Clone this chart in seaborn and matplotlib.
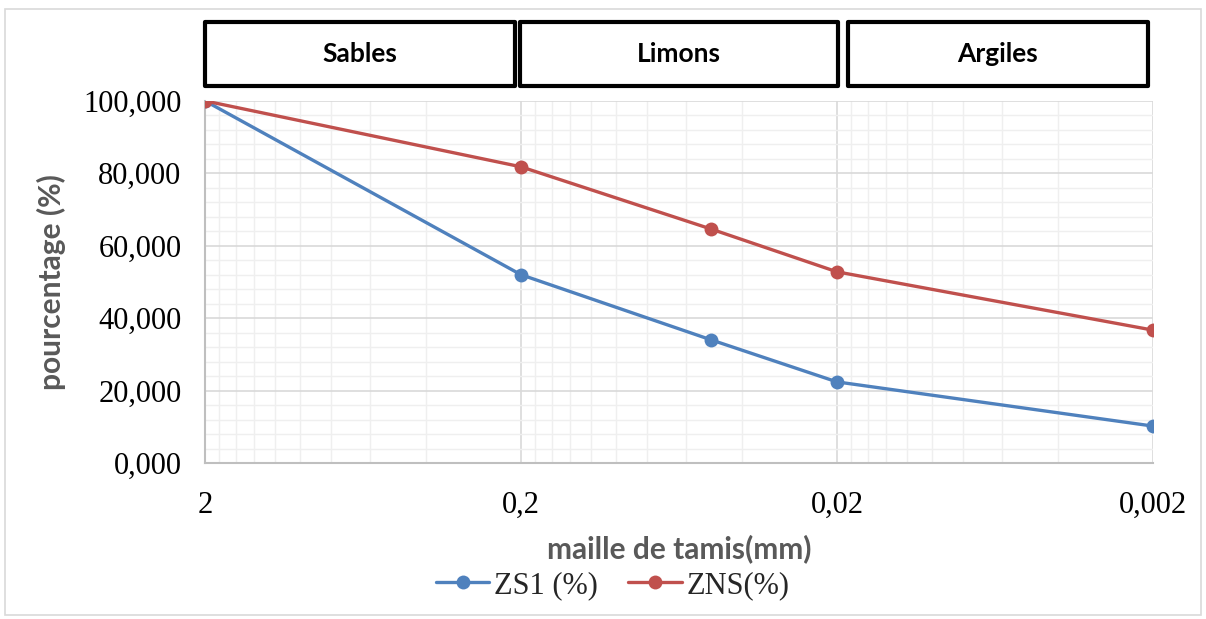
import matplotlib
matplotlib.use("Agg")
import matplotlib.pyplot as plt
import seaborn as sns
import pandas as pd
from matplotlib.patches import Rectangle
from matplotlib.ticker import FixedLocator, FixedFormatter, NullFormatter, MultipleLocator, FuncFormatter
from matplotlib.lines import Line2D

# ---- data ----
sieve_mm = [2, 0.2, 0.05, 0.02, 0.002]
zs1 = [100.0, 52.0, 34.0, 22.4, 10.2]
zns = [100.0, 81.8, 64.6, 52.8, 36.7]
series_names = ["ZS1 (%)", "ZNS(%)"]
x_ticks = [2, 0.2, 0.02, 0.002]
x_tick_labels = ["2", "0,2", "0,02", "0,002"]
zones = ["Sables", "Limons", "Argiles"]

colors = ["#4F81BD", "#C0504D"]

df = pd.DataFrame({
    "maille": sieve_mm * 2,
    "pct": zs1 + zns,
    "serie": [series_names[0]] * len(sieve_mm) + [series_names[1]] * len(sieve_mm),
})

sns.set_theme(style="white")
plt.rcParams["font.family"] = ["Liberation Serif", "DejaVu Sans"]

fig = plt.figure(figsize=(12.06, 6.19), dpi=100)
ax = fig.add_axes([0.170, 0.252, 0.786, 0.585])

sns.lineplot(data=df, x="maille", y="pct", hue="serie", palette=colors,
             marker="o", markersize=10, markeredgewidth=0, linewidth=2.4,
             ax=ax, legend=False, sort=True, zorder=3)

ax.set_xscale("log")
ax.set_xlim(2, 0.002)
ax.set_ylim(0, 100)

# ticks
ax.xaxis.set_major_locator(FixedLocator(x_ticks))
ax.xaxis.set_major_formatter(FixedFormatter(x_tick_labels))
minor = []
for base in [0.002, 0.02, 0.2]:
    for k in range(2, 10):
        minor.append(base * k)
ax.xaxis.set_minor_locator(FixedLocator(minor))
ax.xaxis.set_minor_formatter(NullFormatter())
ax.yaxis.set_major_locator(MultipleLocator(20))
ax.yaxis.set_minor_locator(MultipleLocator(4))
ax.yaxis.set_major_formatter(FuncFormatter(lambda v, p: f"{v:.3f}".replace(".", ",")))

ax.grid(True, which="major", color="#D9D9D9", linewidth=1.2)
ax.grid(True, which="minor", color="#EFEFEF", linewidth=1.0)
ax.set_axisbelow(True)

for s in ["top", "right"]:
    ax.spines[s].set_visible(False)
for s in ["left", "bottom"]:
    ax.spines[s].set_color("#BFBFBF")
    ax.spines[s].set_linewidth(1.5)

ax.tick_params(axis="both", which="both", length=0)
ax.tick_params(axis="x", labelsize=22, pad=20, colors="black")
ax.tick_params(axis="y", labelsize=22, pad=17, colors="black")

ax.set_xlabel("maille de tamis(mm)", fontfamily="Lato", fontweight="bold",
              fontsize=21.5, color="#595959", labelpad=10)
ax.set_ylabel("pourcentage (%)", fontfamily="Lato", fontweight="bold",
              fontsize=21.5, color="#595959", labelpad=12)

# zone boxes above the plot
box_spans = [(0.0, 0.327), (0.332, 0.668), (0.678, 0.995)]
for name, (x0, x1) in zip(zones, box_spans):
    r = Rectangle((x0, 1.04), x1 - x0, 0.178, transform=ax.transAxes,
                  fill=False, edgecolor="black", linewidth=3, clip_on=False,
                  joinstyle="round")
    ax.add_patch(r)
    ax.text((x0 + x1) / 2, 1.04 + 0.089, name, transform=ax.transAxes,
            ha="center", va="center", fontfamily="Lato", fontweight="bold",
            fontsize=19, color="black")

# legend
handles = [Line2D([0], [0], color=c, marker="o", markersize=10, linewidth=2.4,
                  markeredgewidth=0) for c in colors]
fig.legend(handles, series_names, loc="center", bbox_to_anchor=(0.508, 0.054),
           ncol=2, frameon=False, fontsize=22, handlelength=1.75,
           columnspacing=1.0, handletextpad=0.15)

# outer frame
fig.patches.append(Rectangle((0.004, 0.006), 0.992, 0.98, transform=fig.transFigure,
                             fill=False, edgecolor="#D9D9D9", linewidth=1.2))

fig.savefig("out.png", dpi=100)
